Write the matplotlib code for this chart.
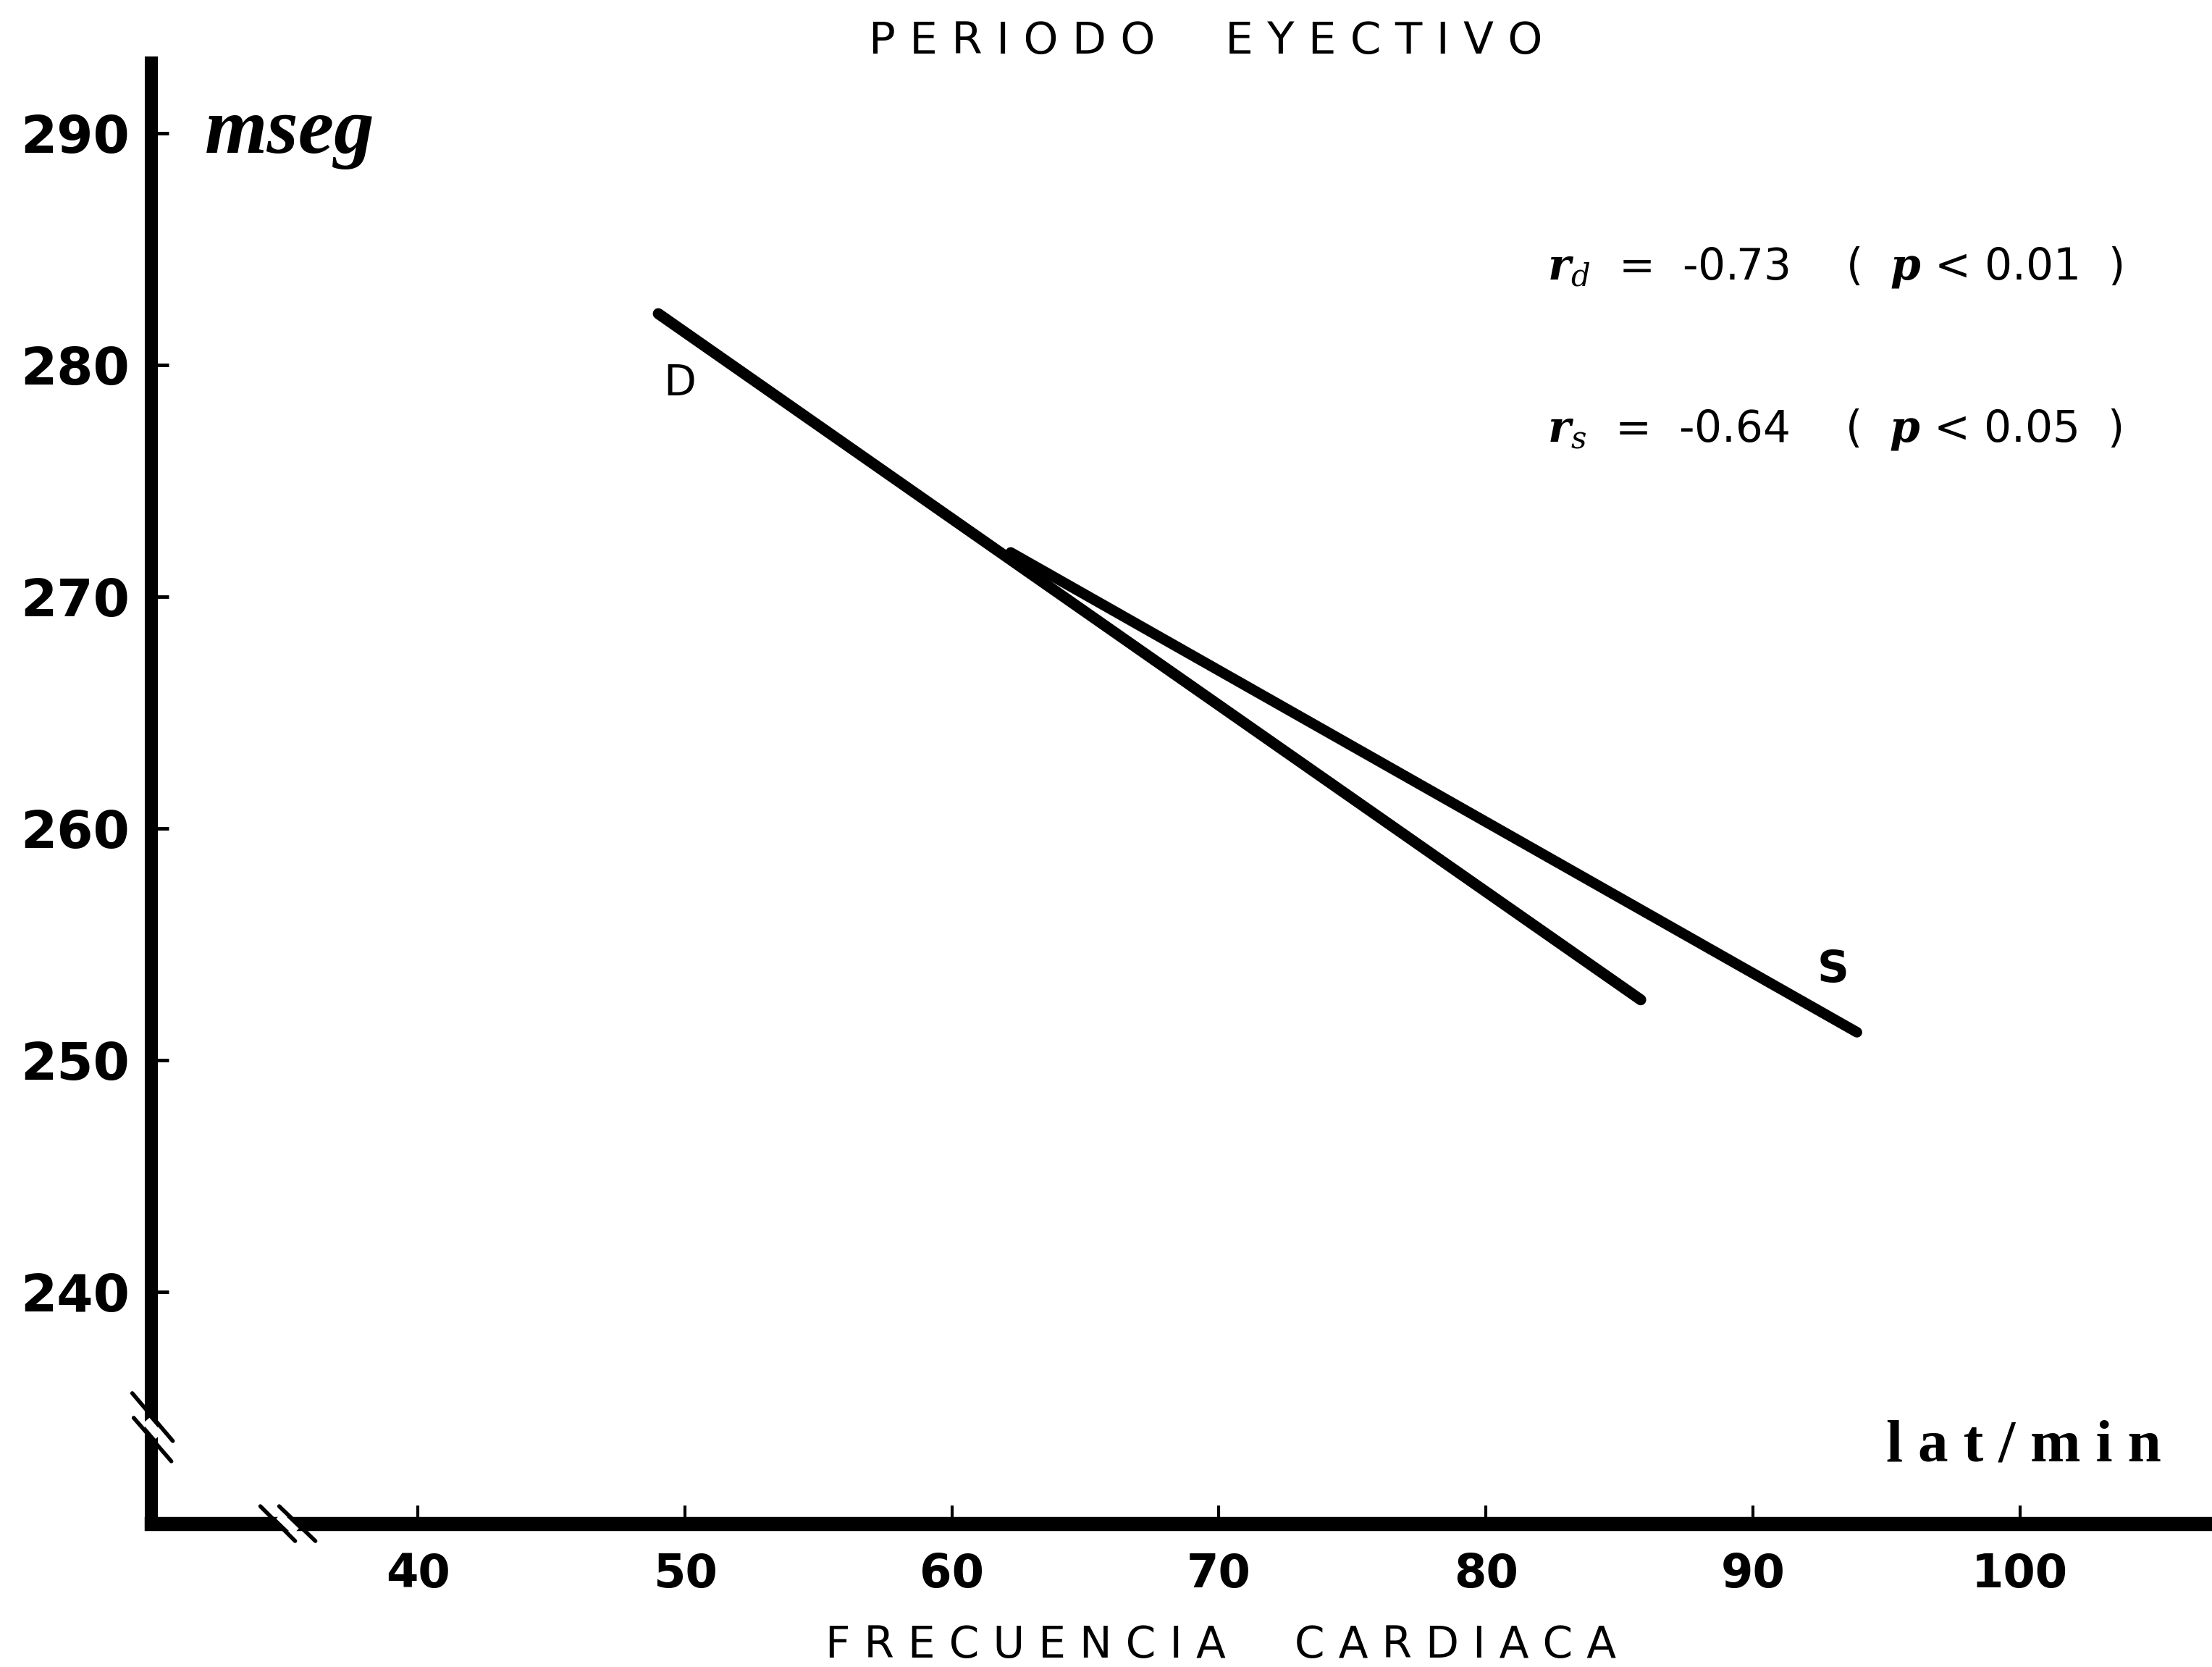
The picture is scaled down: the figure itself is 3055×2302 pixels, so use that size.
#!/usr/bin/env python3
# periodo_eyectivo.py
# Regression lines of the ejection period vs heart rate (D and S),
# drawn in the style of an old scanned figure: thick L-shaped axes,
# axis break marks, bold tick labels.

import numpy as np
import matplotlib.pyplot as plt
from matplotlib.lines import Line2D
from matplotlib.transforms import IdentityTransform

# ---- Data ----
d_x = [49.0, 85.8]          # lat/min
d_y = [282.2, 252.6]        # mseg
s_x = [62.2, 93.9]
s_y = [271.9, 251.2]

x_ticks = [40, 50, 60, 70, 80, 90, 100]
y_ticks = [240, 250, 260, 270, 280, 290]

r_d_text = r"$\mathbfit{r}_{d}$  =  -0.73    (  $\mathbfit{p}$ < 0.01  )"
r_s_text = r"$\mathbfit{r}_{s}$  =  -0.64    (  $\mathbfit{p}$ < 0.05  )"

W, H, DPI = 3055, 2302, 100


def spaced(s, gap=" "):
    return gap.join(list(s)).replace(gap + " " + gap, "   ")


def break_mark(fig, ax, fx, fy, offsets, mask=None, lw=4, mask_lw=9):
    # offsets: list of (dx0, dy0, dx1, dy1) in pixels from an axes-fraction anchor
    ax0, ay0 = ax.transAxes.transform((fx, fy))
    if mask:
        mx0, my0, mx1, my1 = mask
        fig.add_artist(Line2D([ax0 + mx0, ax0 + mx1], [ay0 + my0, ay0 + my1],
                              transform=IdentityTransform(), color="white",
                              lw=mask_lw, solid_capstyle="butt", zorder=5))
    for dx0, dy0, dx1, dy1 in offsets:
        fig.add_artist(Line2D([ax0 + dx0, ax0 + dx1], [ay0 + dy0, ay0 + dy1],
                              transform=IdentityTransform(), color="black",
                              lw=lw, solid_capstyle="round", zorder=6))


def main():
    plt.rcParams.update({
        "font.family": ["DejaVu Sans"],
        "mathtext.fontset": "dejavuserif",
    })

    fig = plt.figure(figsize=(W / DPI, H / DPI), dpi=DPI)
    ax = fig.add_axes([0.0683, 0.086, 0.9317, 0.876])

    ax.plot(d_x, d_y, color="black", lw=11, solid_capstyle="round")
    ax.plot(s_x, s_y, color="black", lw=10.5, solid_capstyle="round")

    ax.set_xlim(30, 107.2)
    ax.set_ylim(230, 293)

    for side in ("top", "right"):
        ax.spines[side].set_visible(False)
    ax.spines["left"].set_linewidth(13)
    ax.spines["bottom"].set_linewidth(14)
    ax.spines["left"].set_capstyle("projecting")
    ax.spines["bottom"].set_capstyle("projecting")

    ax.set_xticks(x_ticks, [str(v) for v in x_ticks])
    ax.set_yticks(y_ticks, [str(v) for v in y_ticks])
    ax.tick_params(axis="y", direction="in", length=17, width=3.5, pad=21,
                   labelsize=52)
    ax.tick_params(axis="x", direction="in", length=18, width=3, pad=28,
                   labelsize=46)
    for lab in ax.get_xticklabels() + ax.get_yticklabels():
        lab.set_fontweight("bold")

    # Line labels
    ax.text(49.8, 279.2, "D", fontsize=42, ha="center", va="center")
    ax.text(93.0, 253.9, "S", fontsize=44, fontweight="bold",
            ha="center", va="center")

    # Correlation notes
    ax.text(82.3, 284.2, r_d_text, fontsize=43, ha="left", va="center")
    ax.text(82.3, 277.2, r_s_text, fontsize=43, ha="left", va="center")

    # Units
    ax.text(32.0, 290.0, "mseg", fontsize=80, fontweight="bold",
            fontstyle="italic", family="Liberation Serif", ha="left", va="center")
    ax.text(105.3, 233.3, "l a t / m i n", fontsize=60, fontweight="bold",
            family="Liberation Serif", ha="right", va="center")

    # Titles
    fig.text(0.545, 0.975, spaced("PERIODO  EYECTIVO"), fontsize=44,
             ha="center", va="center")
    fig.text(0.552, 0.013, spaced("FRECUENCIA  CARDIACA"), fontsize=43,
             ha="center", va="center")

    # Axis break marks (white gap in the spine between the two strokes)
    fig.canvas.draw()
    y_break_fy = (1080 - 1005) / 1035.0
    break_mark(fig, ax, 0.0, y_break_fy,
               [(-26, 34, 30, -32), (-24, 0, 28, -60)],
               mask=(-7, -4, 11, -25), mask_lw=9)
    x_break_fx = (205 - 107) / 1461.0
    break_mark(fig, ax, x_break_fx, 0.0,
               [(-40, 24, 8, -24), (-14, 24, 36, -24)],
               mask=(-14, 11, 9, -11), mask_lw=8.5)

    fig.savefig("out.png", dpi=DPI)
    plt.close(fig)


if __name__ == "__main__":
    main()
